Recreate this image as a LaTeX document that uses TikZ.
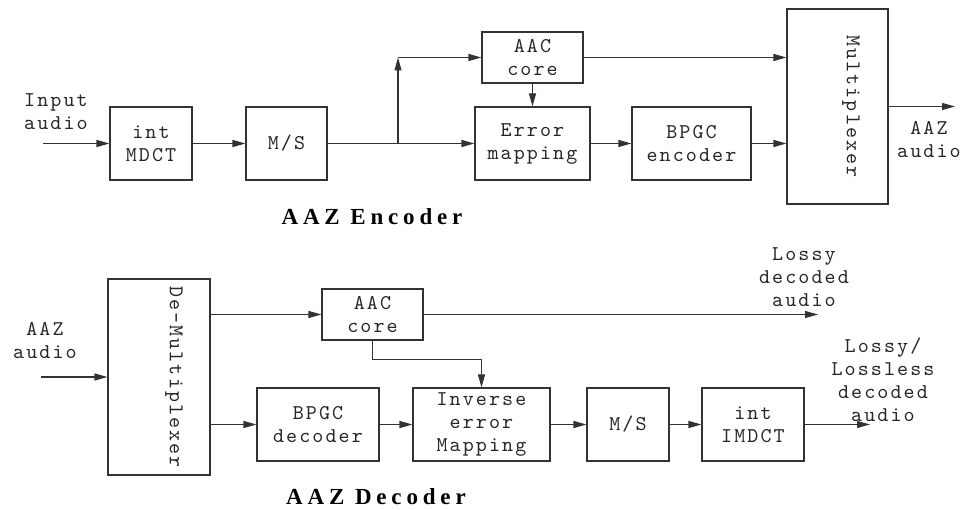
\documentclass[tikz,border=0pt]{standalone}
\usepackage{fontspec}
\newfontfamily\titlefont{Liberation Serif}[LetterSpace=21]
\newfontfamily\lblfamily{lmmono10-regular}[Extension=.otf, LetterSpace=10]
\usetikzlibrary{arrows.meta,positioning,calc}

\newcommand{\lblfont}{\lblfamily\fontsize{21}{23}\selectfont}

\begin{document}
\begin{tikzpicture}[x=1pt, y=-1pt,
    box/.style={draw=black!80, rectangle, line width=1.1pt, inner sep=0pt, align=center,
        text=black!85, font=\lblfont},
    txt/.style={align=center, inner sep=0pt, text=black!85, font=\lblfont},
    title/.style={inner sep=0pt, font=\titlefont\bfseries\fontsize{23}{26}\selectfont},
    arrow/.style={-{Triangle[length=13pt,width=7pt]}, line width=1.1pt, draw=black!80}
]
\useasboundingbox (0,0) rectangle (962,510);

% Encoder blocks
\node[box, minimum width=82pt, minimum height=73pt] (mdct) at (151,143.5) {int\\MDCT};
\node[box, minimum width=81pt, minimum height=73pt] (ms) at (286.5,143.5) {M/S};
\node[box, minimum width=101pt, minimum height=51pt] (aac) at (532.5,57.5) {AAC\\core};
\node[box, minimum width=115pt, minimum height=73pt] (err) at (532.5,143.5) {Error\\mapping};
\node[box, minimum width=119pt, minimum height=73pt] (bpgc) at (691.5,143.5) {BPGC\\encoder};
\node[box, minimum width=101pt, minimum height=195pt] (mux) at (837.5,106.5) {};
\node[txt, rotate=-90] (muxlbl) at (851,106.5) {Multiplexer};

\node[txt] (inlbl) at (56,112) {Input\\audio};
\node[txt] (aazout) at (929,140) {AAZ\\audio};
\node[title] (enctitle) at (372,217) {AAZ Encoder};

\coordinate (encin) at (43,143.5);
\coordinate (split) at (398,143.5);
\coordinate (bend) at (398,57.5);
\coordinate (encout) at (955,106.5);

\draw[arrow] (encin) -- (mdct.west);
\draw[arrow] (mdct) -- (ms);
\draw[line width=1.1pt, draw=black!80] (ms.east) -- (split);
\draw[arrow] (split) -- (err.west);
\draw[arrow] (split) -- (bend);
\draw[arrow] (bend) -- (aac.west);
\draw[arrow] (aac) -- (err);
\draw[arrow] (err) -- (bpgc);
\draw[arrow] (bpgc.east) -- (bpgc.east -| mux.west);
\draw[arrow] (aac.east) -- (aac.east -| mux.west);
\draw[arrow] (mux.east) -- (encout);

% Decoder blocks
\node[box, minimum width=102pt, minimum height=196pt] (demux) at (159,377) {};
\node[txt, rotate=-90] (demuxlbl) at (174,377) {De-Multiplexer};
\node[box, minimum width=101pt, minimum height=51pt] (aacd) at (372.5,314.5) {AAC\\core};
\node[box, minimum width=122pt, minimum height=73pt] (bpgcd) at (318,424.5) {BPGC\\decoder};
\node[box, minimum width=137pt, minimum height=73pt] (inv) at (481.5,424.5) {Inverse\\error\\Mapping};
\node[box, minimum width=82pt, minimum height=73pt] (msd) at (628,424.5) {M/S};
\node[box, minimum width=102pt, minimum height=73pt] (imdct) at (753,424.5) {int\\IMDCT};

\node[txt] (aazin) at (45,341) {AAZ\\audio};
\node[txt] (lossylbl) at (804,277) {Lossy\\decoded\\audio};
\node[txt] (losslesslbl) at (883,380) {Lossy/\\Lossless\\decoded\\audio};
\node[title] (dectitle) at (376,497) {AAZ Decoder};

\coordinate (decin) at (41,377);
\coordinate (lossyout) at (818,314.5);
\coordinate (decout) at (870,424.5);

\draw[arrow] (decin) -- (demux.west);
\draw[arrow] (aacd.west -| demux.east) -- (aacd.west);
\draw[arrow] (aacd.east) -- (lossyout);
\draw[arrow] (aacd.south) -- ++(0,19) -| (inv.north);
\draw[arrow] (bpgcd.west -| demux.east) -- (bpgcd.west);
\draw[arrow] (bpgcd) -- (inv);
\draw[arrow] (inv) -- (msd);
\draw[arrow] (msd) -- (imdct);
\draw[arrow] (imdct.east) -- (decout);

\end{tikzpicture}
\end{document}
